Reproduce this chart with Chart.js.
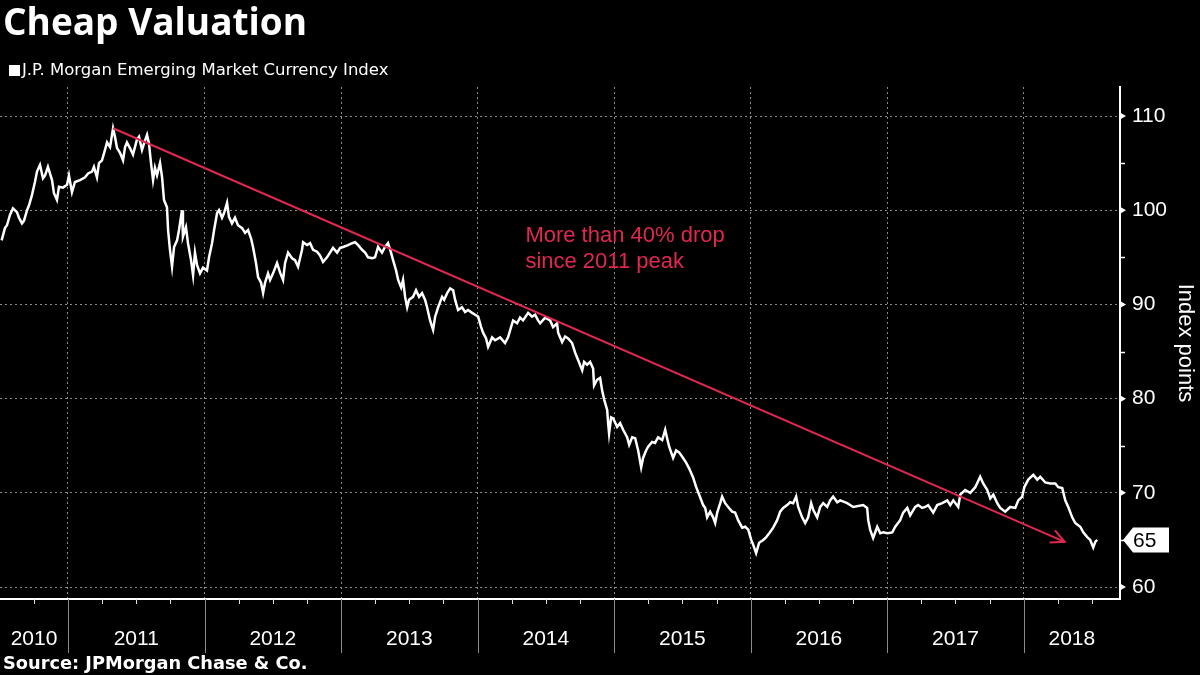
<!DOCTYPE html>
<html>
<head>
<meta charset="utf-8">
<title>Cheap Valuation</title>
<script src="https://cdn.jsdelivr.net/npm/chart.js@4.4.1/dist/chart.umd.min.js"></script>
<style>
  html, body { margin: 0; padding: 0; background: #000; }
  #wrap { position: relative; width: 1200px; height: 675px; overflow: hidden; background: #000; }
  #chart { position: absolute; left: 0; top: 0; }
  .title { position: absolute; left: 3px; top: 2px; font: 700 37px/1 'Open Sans', sans-serif; color: #fff; white-space: nowrap; }
  .legend { position: absolute; left: 22px; top: 62px; font: 16.5px/1 'DejaVu Sans', sans-serif; color: #fff; white-space: nowrap; }
  .legend .swatch { position: absolute; left: -13px; top: 3px; width: 11px; height: 11px; background: #fff; }
  .source { position: absolute; left: 3px; top: 654px; font: 700 17.8px/1 'DejaVu Sans', sans-serif; color: #fff; white-space: nowrap; }
</style>
</head>
<body>
<div id="wrap">
  <canvas id="chart" width="1200" height="675"></canvas>
  <div class="title">Cheap Valuation</div>
  <div class="legend"><span class="swatch"></span>J.P. Morgan Emerging Market Currency Index</div>
  <div class="source">Source: JPMorgan Chase &amp; Co.</div>
</div>

<script>
// Index readings (decimal year -> index points)
const dates = [
  2010.514, 2010.538, 2010.553, 2010.575, 2010.597, 2010.626, 2010.641, 2010.663, 2010.678, 2010.700,
  2010.714, 2010.736, 2010.758, 2010.773, 2010.795, 2010.817, 2010.832, 2010.853, 2010.883, 2010.897,
  2010.919, 2010.934, 2010.963, 2010.993, 2011.007, 2011.029, 2011.051, 2011.088, 2011.125, 2011.147,
  2011.176, 2011.190, 2011.212, 2011.227, 2011.249, 2011.271, 2011.286, 2011.308, 2011.330, 2011.344,
  2011.359, 2011.381, 2011.403, 2011.418, 2011.432, 2011.454, 2011.476, 2011.505, 2011.520, 2011.542,
  2011.557, 2011.579, 2011.593, 2011.608, 2011.623, 2011.637, 2011.652, 2011.674, 2011.689, 2011.703,
  2011.725, 2011.733, 2011.747, 2011.762, 2011.777, 2011.799, 2011.813, 2011.835, 2011.842, 2011.864,
  2011.879, 2011.901, 2011.916, 2011.930, 2011.945, 2011.967, 2011.989, 2012.018, 2012.033, 2012.055,
  2012.070, 2012.092, 2012.106, 2012.128, 2012.143, 2012.165, 2012.179, 2012.201, 2012.223, 2012.245,
  2012.275, 2012.297, 2012.319, 2012.341, 2012.355, 2012.377, 2012.392, 2012.414, 2012.429, 2012.443,
  2012.465, 2012.480, 2012.502, 2012.531, 2012.553, 2012.575, 2012.590, 2012.612, 2012.641, 2012.663,
  2012.685, 2012.714, 2012.722, 2012.751, 2012.773, 2012.795, 2012.824, 2012.846, 2012.868, 2012.897,
  2012.919, 2012.941, 2012.971, 2012.993, 2013.015, 2013.051, 2013.081, 2013.103, 2013.125, 2013.154,
  2013.176, 2013.198, 2013.227, 2013.249, 2013.271, 2013.300, 2013.322, 2013.344, 2013.366, 2013.381,
  2013.403, 2013.418, 2013.440, 2013.454, 2013.469, 2013.484, 2013.498, 2013.527, 2013.549, 2013.571,
  2013.593, 2013.615, 2013.630, 2013.652, 2013.674, 2013.689, 2013.711, 2013.740, 2013.755, 2013.777,
  2013.799, 2013.821, 2013.835, 2013.857, 2013.886, 2013.908, 2013.930, 2013.960, 2013.982, 2014.004,
  2014.026, 2014.040, 2014.062, 2014.077, 2014.106, 2014.128, 2014.165, 2014.201, 2014.223, 2014.245,
  2014.260, 2014.289, 2014.311, 2014.333, 2014.370, 2014.399, 2014.421, 2014.443, 2014.458, 2014.495,
  2014.531, 2014.553, 2014.582, 2014.590, 2014.619, 2014.641, 2014.663, 2014.692, 2014.714, 2014.736,
  2014.766, 2014.780, 2014.802, 2014.824, 2014.846, 2014.853, 2014.875, 2014.897, 2014.912, 2014.927,
  2014.949, 2014.956, 2014.963, 2014.978, 2014.993, 2015.022, 2015.044, 2015.066, 2015.095, 2015.110,
  2015.132, 2015.154, 2015.176, 2015.198, 2015.212, 2015.234, 2015.249, 2015.278, 2015.300, 2015.322,
  2015.352, 2015.374, 2015.388, 2015.403, 2015.432, 2015.454, 2015.476, 2015.505, 2015.527, 2015.549,
  2015.579, 2015.601, 2015.623, 2015.652, 2015.667, 2015.681, 2015.703, 2015.725, 2015.740, 2015.755,
  2015.777, 2015.791, 2015.813, 2015.835, 2015.864, 2015.886, 2015.908, 2015.938, 2015.960, 2015.982,
  2016.004, 2016.018, 2016.040, 2016.062, 2016.092, 2016.114, 2016.136, 2016.165, 2016.194, 2016.216,
  2016.238, 2016.267, 2016.289, 2016.311, 2016.333, 2016.348, 2016.377, 2016.399, 2016.421, 2016.443,
  2016.458, 2016.487, 2016.509, 2016.531, 2016.560, 2016.582, 2016.604, 2016.634, 2016.656, 2016.707,
  2016.751, 2016.824, 2016.853, 2016.861, 2016.875, 2016.897, 2016.927, 2016.949, 2016.971, 2017.000,
  2017.037, 2017.059, 2017.095, 2017.117, 2017.147, 2017.168, 2017.205, 2017.227, 2017.256, 2017.278,
  2017.300, 2017.337, 2017.366, 2017.403, 2017.440, 2017.462, 2017.484, 2017.520, 2017.535, 2017.571,
  2017.608, 2017.645, 2017.681, 2017.703, 2017.733, 2017.755, 2017.777, 2017.806, 2017.828, 2017.864,
  2017.901, 2017.938, 2017.960, 2017.989, 2018.004, 2018.033, 2018.070, 2018.099, 2018.121, 2018.158,
  2018.194, 2018.231, 2018.253, 2018.282, 2018.304, 2018.326, 2018.355, 2018.377, 2018.414, 2018.436,
  2018.465, 2018.487, 2018.509, 2018.524, 2018.538
];
const index = [
  96.8, 98.1, 98.4, 99.5, 100.2, 99.8, 99.2, 98.6, 98.9, 100.0,
  100.5, 101.6, 103.0, 104.1, 104.8, 103.4, 103.7, 104.6, 103.2, 101.8,
  101.1, 102.5, 102.4, 102.7, 103.7, 101.9, 103.0, 103.2, 103.5, 103.9,
  104.1, 104.6, 103.5, 105.0, 105.3, 106.4, 107.2, 106.7, 108.7, 107.8,
  106.6, 106.1, 105.3, 106.7, 107.2, 106.6, 105.9, 107.5, 107.8, 106.4,
  107.1, 108.0, 107.1, 105.0, 103.2, 104.5, 103.7, 105.0, 103.5, 101.1,
  100.3, 97.9, 95.8, 94.0, 96.1, 96.8, 97.9, 100.0, 97.2, 98.2,
  96.5, 94.7, 93.1, 95.5, 94.2, 93.3, 93.9, 93.6, 95.0, 96.5,
  97.9, 99.7, 100.0, 99.2, 99.7, 100.8, 99.3, 98.6, 99.2, 98.4,
  98.1, 97.6, 97.9, 97.0, 96.1, 94.4, 92.9, 92.3, 91.2, 92.3,
  93.3, 92.6, 93.3, 94.4, 93.4, 92.6, 94.4, 95.5, 94.9, 94.7,
  94.0, 95.8, 96.6, 96.3, 96.5, 95.8, 95.6, 95.2, 94.5, 95.0,
  95.5, 96.0, 95.5, 96.0, 96.1, 96.3, 96.5, 96.6, 96.3, 95.8,
  95.5, 95.0, 94.9, 95.0, 96.1, 95.5, 96.1, 96.5, 95.5, 94.7,
  93.6, 92.6, 91.8, 92.6, 90.8, 89.7, 90.5, 90.8, 91.5, 90.8,
  91.2, 90.5, 89.7, 88.3, 87.3, 88.7, 89.7, 90.8, 90.5, 91.2,
  91.7, 91.5, 90.5, 89.4, 89.7, 89.2, 89.4, 89.1, 88.9, 88.7,
  87.6, 87.0, 86.4, 85.5, 86.5, 86.2, 86.5, 85.9, 86.5, 87.6,
  88.3, 88.0, 88.6, 88.3, 89.1, 88.7, 88.9, 88.3, 88.0, 88.6,
  88.3, 87.6, 88.0, 87.0, 86.0, 86.6, 86.4, 85.9, 84.9, 84.1,
  83.0, 83.9, 83.6, 83.9, 83.2, 81.4, 82.0, 82.2, 80.9, 79.9,
  78.8, 77.4, 76.3, 78.0, 77.9, 77.0, 77.4, 76.7, 75.9, 75.1,
  75.9, 75.8, 74.5, 72.7, 73.7, 74.5, 74.9, 75.4, 75.3, 75.9,
  75.6, 76.7, 75.8, 74.9, 73.7, 74.5, 74.3, 73.7, 73.2, 72.6,
  71.6, 70.6, 69.8, 68.7, 68.4, 67.4, 68.0, 67.4, 66.8, 67.9,
  68.9, 69.6, 68.9, 68.5, 68.0, 67.9, 67.1, 66.3, 66.4, 66.1,
  65.0, 64.5, 63.6, 64.7, 65.0, 65.3, 65.7, 66.3, 67.1, 68.0,
  68.4, 68.7, 69.0, 68.9, 69.6, 68.5, 67.4, 66.8, 67.4, 68.9,
  68.2, 67.4, 68.5, 68.9, 68.5, 69.2, 69.6, 69.0, 69.2, 68.9,
  68.5, 68.7, 68.4, 67.1, 66.1, 65.2, 66.4, 65.7, 65.8, 65.7,
  65.8, 66.4, 67.1, 67.9, 68.4, 67.6, 68.5, 68.7, 68.4, 68.5,
  68.7, 67.9, 68.7, 68.9, 69.2, 68.7, 69.2, 68.5, 69.8, 70.3,
  70.0, 70.6, 71.7, 71.0, 70.3, 69.4, 69.8, 68.9, 68.4, 68.0,
  68.5, 68.4, 69.2, 69.6, 70.6, 71.4, 71.9, 71.4, 71.7, 71.1,
  71.0, 71.0, 70.6, 70.5, 69.2, 68.5, 67.4, 66.8, 66.4, 65.8,
  65.3, 65.0, 64.2, 64.8, 65.0
];

// Axes
const yearStarts = [2011, 2012, 2013, 2014, 2015, 2016, 2017, 2018];
const yearLabels = ['2010', '2011', '2012', '2013', '2014', '2015', '2016', '2017', '2018'];
const yTicks = [60, 70, 80, 90, 100, 110];
const yMinorTicks = [65, 75, 85, 95, 105];

// Trend arrow: 2011 peak down to mid-2018
const arrowFrom = [2011.33, 108.7];
const arrowTo = [2018.30, 64.8];
const noteLines = ['More than 40% drop', 'since 2011 peak'];
const noteAt = [2014.35, 96.6];

const RED = '#e1284f';
const GRID = '#8a8a8a';
const AXIS_FONT = "'Liberation Sans', Arial, sans-serif";

// Everything the library does not draw by itself
const decorations = {
  id: 'decorations',
  afterDatasetsDraw(chart) {
    const { ctx, chartArea, scales: { x, y } } = chart;
    const bottom = chartArea.bottom;
    const right = chartArea.right;
    ctx.save();

    // year separators below the axis
    ctx.strokeStyle = GRID;
    ctx.lineWidth = 1;
    ctx.beginPath();
    yearStarts.forEach(yr => {
      const px = Math.round(x.getPixelForValue(yr)) + 0.5;
      ctx.moveTo(px, bottom);
      ctx.lineTo(px, bottom + 54);
    });
    ctx.stroke();

    // quarter ticks
    ctx.strokeStyle = '#ddd';
    ctx.beginPath();
    yearLabels.forEach(label => {
      [0.25, 0.5, 0.75].forEach(q => {
        const v = Number(label) + q;
        if (v <= x.min || v >= x.max) return;
        const px = Math.round(x.getPixelForValue(v)) + 0.5;
        ctx.moveTo(px, bottom);
        ctx.lineTo(px, bottom + 5);
      });
    });
    ctx.stroke();

    // year labels, centred on the visible part of each year
    ctx.fillStyle = '#fff';
    ctx.font = '21px ' + AXIS_FONT;
    ctx.textAlign = 'center';
    ctx.textBaseline = 'alphabetic';
    yearLabels.forEach(label => {
      const yr = Number(label);
      const a = x.getPixelForValue(Math.max(yr, x.min));
      const b = x.getPixelForValue(Math.min(yr + 1, x.max));
      ctx.fillText(label, (a + b) / 2, bottom + 46);
    });

    // right axis: small arrows at major ticks, short marks at minor ones
    ctx.fillStyle = '#fff';
    yTicks.forEach(v => {
      const py = y.getPixelForValue(v);
      ctx.beginPath();
      ctx.moveTo(right, py - 3.5);
      ctx.lineTo(right + 6, py);
      ctx.lineTo(right, py + 3.5);
      ctx.closePath();
      ctx.fill();
    });
    ctx.strokeStyle = '#fff';
    ctx.lineWidth = 1.5;
    ctx.beginPath();
    yMinorTicks.forEach(v => {
      const py = Math.round(y.getPixelForValue(v)) + 0.5;
      ctx.moveTo(right, py);
      ctx.lineTo(right + 5, py);
    });
    ctx.stroke();

    // arrow head on the trend line
    const pts = chart.getDatasetMeta(1).data;
    const p0 = pts[0], p1 = pts[1];
    const ang = Math.atan2(p1.y - p0.y, p1.x - p0.x);
    ctx.strokeStyle = RED;
    ctx.lineWidth = 2;
    ctx.beginPath();
    ctx.moveTo(p1.x - 15 * Math.cos(ang - 0.45), p1.y - 15 * Math.sin(ang - 0.45));
    ctx.lineTo(p1.x, p1.y);
    ctx.lineTo(p1.x - 15 * Math.cos(ang + 0.45), p1.y - 15 * Math.sin(ang + 0.45));
    ctx.stroke();

    // annotation
    ctx.fillStyle = RED;
    ctx.font = '22px ' + AXIS_FONT;
    ctx.textAlign = 'left';
    const nx = x.getPixelForValue(noteAt[0]);
    const ny = y.getPixelForValue(noteAt[1]);
    noteLines.forEach((line, i) => ctx.fillText(line, nx, ny + i * 26));

    // last value tag
    const last = index[index.length - 1];
    const ly = y.getPixelForValue(last);
    const lx = right + 3;
    ctx.fillStyle = '#fff';
    ctx.beginPath();
    ctx.moveTo(lx, ly);
    ctx.lineTo(lx + 10, ly - 12.5);
    ctx.lineTo(lx + 46, ly - 12.5);
    ctx.lineTo(lx + 46, ly + 12.5);
    ctx.lineTo(lx + 10, ly + 12.5);
    ctx.closePath();
    ctx.fill();
    ctx.fillStyle = '#000';
    ctx.font = '21px ' + AXIS_FONT;
    ctx.textBaseline = 'middle';
    ctx.fillText(String(Math.round(last)), lx + 10, ly + 1);

    ctx.restore();
  }
};

new Chart(document.getElementById('chart'), {
  type: 'line',
  data: {
    datasets: [
      {
        label: 'J.P. Morgan Emerging Market Currency Index',
        data: dates.map((d, i) => ({ x: d, y: index[i] })),
        borderColor: '#fff',
        borderWidth: 2.5,
        pointRadius: 0,
        tension: 0,
        order: 1
      },
      {
        label: 'Trend',
        data: [arrowFrom, arrowTo].map(([px, py]) => ({ x: px, y: py })),
        borderColor: RED,
        borderWidth: 2,
        pointRadius: 0,
        order: 0
      }
    ]
  },
  options: {
    responsive: false,
    animation: false,
    devicePixelRatio: 1,
    layout: { padding: { top: 87, left: 0, right: 0, bottom: 0 } },
    plugins: {
      legend: { display: false },
      tooltip: { enabled: false }
    },
    scales: {
      x: {
        type: 'linear',
        min: 2010.502,
        max: 2018.705,
        afterBuildTicks: s => { s.ticks = yearStarts.map(v => ({ value: v })); },
        afterFit: s => { s.height = 76; },
        ticks: { display: false },
        grid: { color: GRID, lineWidth: 1, drawTicks: false },
        border: { display: true, color: '#fff', width: 2, dash: [2, 3] }
      },
      y: {
        position: 'right',
        min: 58.73,
        max: 113.08,
        afterBuildTicks: s => { s.ticks = yTicks.map(v => ({ value: v })); },
        afterFit: s => { s.width = 80; },
        ticks: { color: '#fff', font: { family: AXIS_FONT, size: 21 }, padding: 12 },
        grid: { color: GRID, lineWidth: 1, drawTicks: false },
        border: { display: true, color: '#fff', width: 2, dash: [2, 3] },
        title: {
          display: true,
          text: 'Index points',
          color: '#fff',
          font: { family: AXIS_FONT, size: 22 },
          padding: { top: 2, bottom: 0 }
        }
      }
    }
  },
  plugins: [decorations]
});
</script>
</body>
</html>
